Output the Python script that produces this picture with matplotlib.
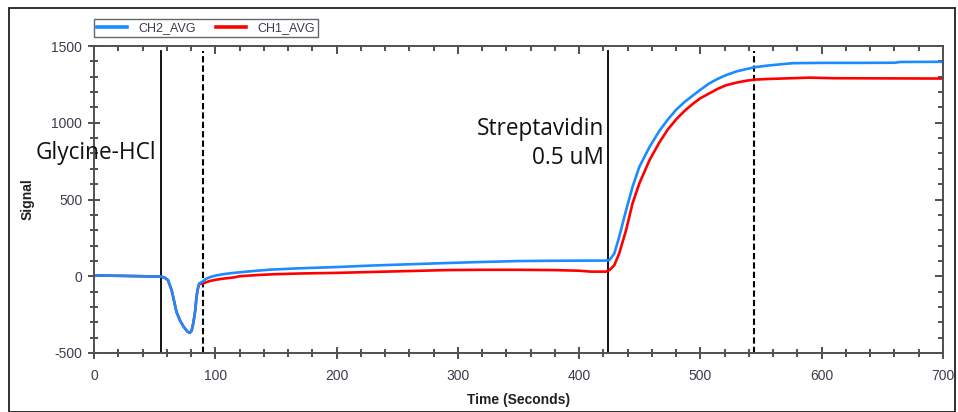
import matplotlib
matplotlib.use("Agg")
import matplotlib.pyplot as plt
from matplotlib.patches import Rectangle
from matplotlib.ticker import MultipleLocator

plt.rcParams["axes.unicode_minus"] = False

# sensorgram readings (time in s, signal)
ch2_time = [0, 20, 40, 55, 58, 61, 64, 66, 68, 71, 74, 77, 79, 80.5, 82, 83.5,
            84.5, 85.5, 86.7, 89.5, 92, 96, 101, 108, 115, 130, 145, 170, 200,
            230, 260, 290, 320, 350, 380, 410, 422, 425, 429, 433, 438.7, 444,
            449.6, 458, 466, 473, 480, 487, 494, 500, 507, 514, 521, 530, 538,
            545, 555, 565, 576, 600, 630, 660, 665, 700]
ch2_signal = [5, 3, 0, -2, -8, -25, -91, -160, -232, -290, -330, -360, -369,
              -355, -300, -220, -135, -85, -47, -35, -18, -5, 6, 15, 22, 33, 43,
              52, 60, 70, 78, 86, 93, 99, 101, 102, 102, 105, 148, 256, 430,
              582, 712, 842, 945, 1020, 1085, 1136, 1179, 1215, 1255, 1285,
              1310, 1335, 1350, 1362, 1372, 1380, 1388, 1390, 1390, 1391, 1396,
              1397]

ch1_time = [0, 20, 40, 55, 58, 61, 64, 66, 68, 71, 74, 77, 79, 80.5, 82, 83.5,
            84.5, 85.5, 86.7, 89.5, 92, 96, 101, 108, 115, 120, 135, 148, 170,
            200, 230, 260, 290, 320, 350, 380, 400, 410, 422, 425, 429, 433,
            438.7, 444, 449.6, 458, 466, 473, 480, 487, 494, 500, 507, 514, 521,
            530, 538, 545, 555, 567, 590, 610, 700]
ch1_signal = [5, 3, 0, -2, -8, -25, -91, -160, -232, -290, -330, -360, -369,
              -355, -300, -220, -135, -85, -50, -48, -40, -30, -22, -14, -8, 0,
              8, 13, 18, 22, 28, 34, 40, 42, 42, 40, 36, 30, 30, 40, 72, 148,
              300, 474, 604, 756, 870, 955, 1022, 1078, 1125, 1160, 1190, 1220,
              1244, 1262, 1274, 1281, 1285, 1288, 1294, 1290, 1288]

solid_markers = [55, 424]
dashed_markers = [89.5, 544.5]

BLUE = "#1a8cff"
RED = "#ff0000"
TICK_COLOR = "#3c3c4c"
SPINE_COLOR = "#505050"

fig = plt.figure(figsize=(9.58, 4.12), dpi=100)
ax = fig.add_axes([94 / 958, 1 - 353 / 412, (943 - 94) / 958, (353 - 46) / 412])

ax.plot(ch1_time, ch1_signal, color=RED, lw=1.9, label="CH1_AVG")
ax.plot(ch2_time, ch2_signal, color=BLUE, lw=1.9, label="CH2_AVG")

for x in solid_markers:
    ax.plot([x, x], [-500, 1465], color="black", lw=1.3, zorder=1)
for x in dashed_markers:
    ax.plot([x, x], [-500, 1465], color="black", lw=1.5, ls=(0, (3, 1.5)), zorder=1)

ax.set_xlim(0, 700)
ax.set_ylim(-500, 1500)
ax.xaxis.set_major_locator(MultipleLocator(100))
ax.xaxis.set_minor_locator(MultipleLocator(20))
ax.yaxis.set_major_locator(MultipleLocator(500))
ax.yaxis.set_minor_locator(MultipleLocator(100))

for side in ax.spines.values():
    side.set_color(SPINE_COLOR)
    side.set_linewidth(1.4)

ax.tick_params(which="both", direction="inout", color="#202020", width=1.1,
               labelcolor=TICK_COLOR, labelsize=10)
ax.tick_params(which="major", length=9, pad=4)
ax.tick_params(axis="x", which="major", pad=7)
ax.tick_params(which="minor", length=6)
for lbl in ax.get_xticklabels() + ax.get_yticklabels():
    lbl.set_family("Liberation Sans")

# inward ticks on top and right edges
top = ax.secondary_xaxis("top")
top.xaxis.set_major_locator(MultipleLocator(100))
top.xaxis.set_minor_locator(MultipleLocator(20))
top.tick_params(which="both", direction="in", labeltop=False, color="#202020", width=1.1)
top.tick_params(which="major", length=6)
top.tick_params(which="minor", length=3.5)
right = ax.secondary_yaxis("right")
right.yaxis.set_major_locator(MultipleLocator(500))
right.yaxis.set_minor_locator(MultipleLocator(100))
right.tick_params(which="both", direction="in", labelright=False, color="#202020", width=1.1)
right.tick_params(which="major", length=6)
right.tick_params(which="minor", length=3.5)
for sec in (top, right):
    for side in sec.spines.values():
        side.set_visible(False)

ax.set_xlabel("Time (Seconds)", fontsize=10, fontweight="bold",
              family="Liberation Sans", color="#202020", labelpad=7)
ax.set_ylabel("Signal", fontsize=10, fontweight="bold",
              family="Liberation Sans", color="#202020", labelpad=12)

note_style = dict(fontsize=16.3, family="Open Sans", va="center", color="#111111")
fig.text(36 / 958, 1 - 153 / 412, "Glycine-HCl", ha="left", **note_style)
fig.text(604 / 958, 1 - 129 / 412, "Streptavidin", ha="right", **note_style)
fig.text(604 / 958, 1 - 158 / 412, "0.5 uM", ha="right", **note_style)

handles, labels = ax.get_legend_handles_labels()
leg = fig.legend(handles[::-1], labels[::-1], ncol=2, loc="lower left",
                 bbox_to_anchor=(94 / 958, 1 - 37 / 412),
                 prop={"family": "Liberation Sans", "size": 9},
                 frameon=True, fancybox=False, borderpad=0.25,
                 handlelength=2.4, handletextpad=0.9, columnspacing=1.6,
                 borderaxespad=0)
leg.get_frame().set_edgecolor("#404040")
leg.get_frame().set_linewidth(1.0)
for t in leg.get_texts():
    t.set_color(TICK_COLOR)
for h in leg.get_lines():
    h.set_linewidth(2.6)

# outer picture frame
fig.patches.append(Rectangle((9 / 958, 0), (955 - 9) / 958, 1 - 8 / 412,
                             transform=fig.transFigure, fill=False,
                             edgecolor="#202020", lw=1.3))

fig.savefig("out.png", dpi=100)
